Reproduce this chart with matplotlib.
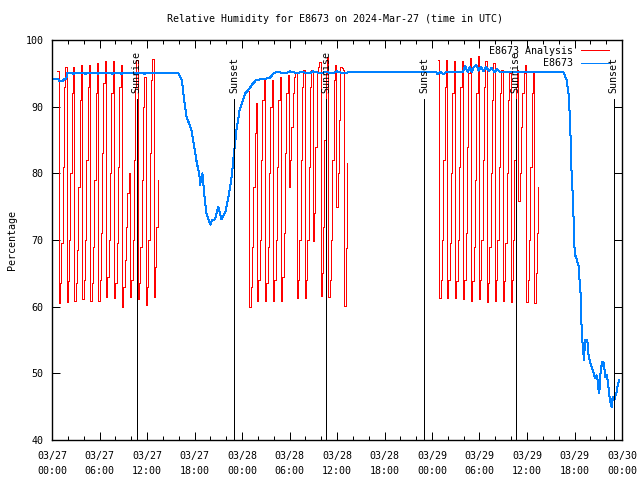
import matplotlib
matplotlib.use("Agg")
import matplotlib.pyplot as plt
import numpy as np

FONT = "DejaVu Sans Mono"
FS = 7.2
LW = 0.72  # one pixel at 100 dpi

# --- data (hours since 03/27 00:00 UTC) ---
# Analysis (red): segment start hour, leading value, then hourly cycles sampled every 10 minutes
seg_starts = [0.67, 24.75, 48.75]
seg_first = [95.4, 92.3, 97.0]
seg1_cycles = [
    [60.6, 63.5, 69.5, 81, 93, 96.0],
    [60.75, 63.8, 70, 80, 92, 96.0],
    [60.9, 63.5, 68.5, 78, 91, 96.3],
    [61.1, 64, 70, 82, 93, 96.3],
    [60.9, 63.5, 69, 79, 92, 96.6],
    [60.9, 64, 71, 83, 93.5, 96.8],
    [61.5, 64.5, 70, 80, 92, 96.8],
    [61.25, 63.5, 69.5, 81, 93, 96.3],
    [60.0, 63, 67, 72, 77, 80],
    [61.5, 64, 70, 82, 93, 97],
    [61.1, 63.5, 69, 79, 90, 94.5],
    [60.25, 63, 70, 83, 94, 97.2],
    [61.5, 66, 72, 79],
]
seg2_cycles = [
    [60.0, 63, 69, 78, 86, 90.5],
    [60.9, 64, 70, 82, 91, 94],
    [60.9, 63.5, 69, 80, 90, 94],
    [60.9, 64, 70, 81, 91, 94.5],
    [60.9, 64.5, 71, 83, 92, 94.8],
    [78, 82, 87, 92, 94.5, 95.0],
    [61.35, 64, 70, 82, 93, 95.5],
    [61.35, 64, 70, 81, 93, 95.5],
    [69.8, 74, 84, 95.3, 96, 96.7],
    [61.6, 65, 72, 85, 95, 97.5],
    [61.5, 64, 70, 82, 94, 96.2],
    [75, 80, 88, 96, 95.8, 95.5],
    [60.1, 68.8, 81.5],
]
seg3_cycles = [
    [61.25, 64, 70, 82, 93, 97],
    [61.25, 64, 69.5, 80, 92, 96.8],
    [61.25, 63.8, 70, 81, 93, 96.8],
    [61.1, 64, 71, 84, 95, 97.3],
    [60.9, 63.8, 69, 79, 92, 97.6],
    [61.1, 64, 70, 82, 93, 96.8],
    [60.75, 63.5, 69, 80, 91, 96.5],
    [60.9, 64, 70, 81, 92, 95.5],
    [60.9, 63.8, 69.5, 80, 91, 95],
    [60.75, 64, 70, 82, 93, 95.5],
    [75.8, 80, 87, 92, 95, 96.2],
    [60.75, 64, 70, 81, 92, 95.2],
    [60.5, 65, 71, 78],
]

# Observations (blue)
obs_t = [0.1, 0.8, 0.9, 1.4, 1.5, 1.8, 1.9, 2.6, 2.7, 2.9, 4.1, 4.2, 4.4, 5.7, 5.8, 6.0,
         7.5, 7.6, 7.8, 8.7, 8.8, 9.0, 10.6, 10.7, 10.9, 11.6, 11.7, 11.9, 15.9,
         16.4, 16.7, 17.0, 17.6, 17.9, 18.3, 18.6, 18.7, 19.0, 19.3, 19.5, 20.0, 20.2,
         20.6, 21.0, 21.2, 21.4, 21.9, 22.3, 22.7, 22.9, 23.3, 23.7, 24.4, 24.8, 25.4,
         25.8, 27.5, 28.0, 28.4, 29.5, 30.0, 31.0, 31.5, 32.5, 33.0, 34.0, 34.5, 35.5,
         36.0, 36.8, 37.6, 48.5, 48.7, 49.0, 49.5, 49.8, 51.9, 52.2, 52.5, 52.8, 53.0,
         53.3, 53.6, 53.9, 54.2, 54.5, 54.8, 55.2, 55.5, 55.9, 56.2, 56.6, 64.6,
         65.0, 65.3, 65.4, 65.5, 65.6, 65.8, 65.9, 65.95, 66.1, 66.3, 66.5, 66.6, 66.8,
         66.91, 67.03, 67.2, 67.33, 67.62, 67.74, 67.96, 68.17, 68.37, 68.59, 68.8,
         68.93, 69.0, 69.13, 69.31, 69.51, 69.73, 69.85, 70.07, 70.19, 70.4, 70.57,
         70.7, 70.82, 71.03, 71.2, 71.33, 71.45, 71.66]
obs_v = [94.1, 94.1, 93.9, 93.9, 94.1, 94.1, 95.1, 95.1, 94.85, 95.1, 95.1, 94.85, 95.1, 95.1, 94.85, 95.1,
         95.1, 94.85, 95.1, 95.1, 94.85, 95.1, 95.1, 94.85, 95.1, 95.1, 94.85, 95.1, 95.1,
         94.0, 91.0, 88.5, 86.5, 84.5, 81.5, 80.0, 78.3, 80.0, 76.0, 74.0, 72.3, 73.0,
         73.1, 75.0, 74.0, 73.1, 74.2, 76.5, 79.5, 82.0, 86.5, 89.5, 92.0, 92.5, 93.5,
         94.0, 94.3, 95.0, 95.2, 95.0, 95.3, 95.0, 95.2, 95.0, 95.3, 95.0, 95.2, 95.0,
         95.3, 95.0, 95.2, 95.2, 94.9, 95.2, 94.9, 95.2, 95.2, 96.1, 95.2, 96.0, 95.2,
         96.0, 96.25, 95.4, 96.0, 95.3, 96.0, 95.3, 95.8, 95.2, 95.6, 95.2, 95.2,
         94.0, 91.5, 88.5, 85.5, 81.0, 76.2, 72.5, 69.5, 67.7, 67.0, 66.2, 64.5, 61.5,
         56.0, 54.3, 52.0, 55.0, 55.0, 53.0, 51.7, 51.0, 50.3, 49.3, 49.7,
         49.0, 47.8, 47.0, 50.5, 51.7, 51.5, 49.5, 49.7, 49.0, 46.7, 45.5,
         45.0, 46.5, 46.0, 46.7, 47.3, 48.1, 49.0]

sun_t = [10.7, 23.0, 34.6, 47.05, 58.55, 70.95]
sun_lbl = ["Sunrise", "Sunset", "Sunrise", "Sunset", "Sunrise", "Sunset"]

xtick_hours = list(range(0, 73, 6))
xtick_labels = ["03/27\n00:00", "03/27\n06:00", "03/27\n12:00", "03/27\n18:00",
                "03/28\n00:00", "03/28\n06:00", "03/28\n12:00", "03/28\n18:00",
                "03/29\n00:00", "03/29\n06:00", "03/29\n12:00", "03/29\n18:00",
                "03/30\n00:00"]
yticks = [40, 50, 60, 70, 80, 90, 100]

plt.rcParams['font.family'] = [FONT]
plt.rcParams['font.size'] = FS

fig = plt.figure(figsize=(6.4, 4.8), dpi=100)
ax = fig.add_axes([52/640, 40/480, 570/640, 400/480])

first = True
for st, fv, cyc in zip(seg_starts, seg_first, [seg1_cycles, seg2_cycles, seg3_cycles]):
    vals = [fv]
    for c in cyc:
        vals.extend(c)
    ts = st + np.arange(len(vals)) / 6.0
    ax.plot(ts, vals, color='#ff0000', lw=LW, drawstyle='steps-post', antialiased=False,
            label='E8673 Analysis' if first else None)
    first = False

ax.plot(obs_t, obs_v, color='#0080ff', lw=LW, antialiased=False, label='E8673')

for t, l in zip(sun_t, sun_lbl):
    ax.plot([t, t], [40, 91.2], color='black', lw=LW, antialiased=False)
    ax.text(t, 92.0, l, rotation=90, ha='center', va='bottom', fontsize=FS)

ax.set_xlim(0, 72)
ax.set_ylim(40, 100)
ax.set_xticks(xtick_hours)
ax.set_xticklabels(xtick_labels, linespacing=1.6)
ax.set_xticks(range(0, 73, 2), minor=True)
ax.set_yticks(yticks)
ax.set_yticklabels([str(v) for v in yticks])
ax.tick_params(which='both', direction='in', top=True, right=True, width=LW)
ax.tick_params(axis='x', which='major', length=6, pad=8)
ax.tick_params(axis='y', which='major', length=6, pad=6)
ax.tick_params(which='minor', length=3)
for s in ax.spines.values():
    s.set_linewidth(1.0)

ax.set_ylabel("Percentage", labelpad=6)
fig.text(335/640, 1 - 19/480, "Relative Humidity for E8673 on 2024-Mar-27 (time in UTC)",
         ha='center', va='center', fontsize=FS)

leg = ax.legend(loc='upper right', bbox_to_anchor=(1 - 9/570, 1 - 2/400),
                frameon=False, markerfirst=False,
                handlelength=2.8, handletextpad=0.8, labelspacing=0.25,
                borderaxespad=0.3, borderpad=0.1)
for h in leg.get_lines():
    h.set_linewidth(LW)

fig.savefig("out.png", dpi=100)
